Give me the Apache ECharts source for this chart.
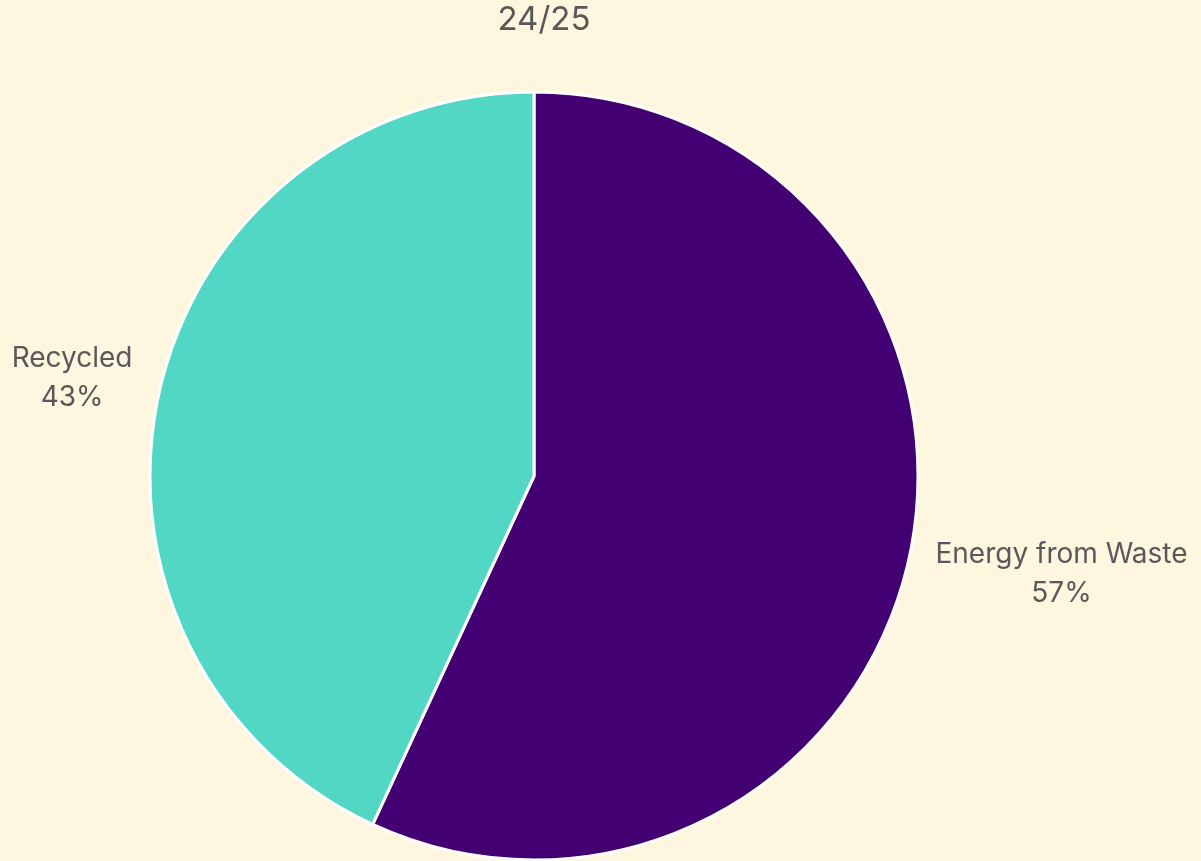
<!DOCTYPE html>
<html>
<head>
    <meta charset="utf-8">
    <title>24/25</title>
    <script src="https://cdn.jsdelivr.net/npm/echarts@6.0.0/dist/echarts.min.js"></script>
    <style>
        html, body { margin: 0; padding: 0; background: #FFF6E0; }
        #main { width: 1201px; height: 861px; }
    </style>
</head>
<body>
    <div id="main"></div>
    <script>
        var categories = ['Energy from Waste', 'Recycled'];
        var values = [56.9, 43.1];
        var colors = ['#430072', '#52D7C4'];

        var myChart = echarts.init(document.getElementById('main'));

        var option = {
            backgroundColor: '#FFF6E0',
            title: {
                text: '24/25',
                left: 539,
                top: -1,
                textAlign: 'center',
                textStyle: {
                    fontFamily: 'Inter',
                    fontSize: 33,
                    fontWeight: 'normal',
                    color: '#595959'
                }
            },
            series: [{
                type: 'pie',
                center: [534, 476],
                radius: [0, 384],
                startAngle: 90,
                clockwise: true,
                avoidLabelOverlap: false,
                data: categories.map(function (c, i) {
                    return { name: c, value: values[i], itemStyle: { color: colors[i] } };
                }),
                itemStyle: { borderColor: '#ffffff', borderWidth: 3 },
                label: {
                    show: true,
                    position: 'outside',
                    formatter: '{b}\n{d}%',
                    fontFamily: 'Inter',
                    fontSize: 28,
                    lineHeight: 39,
                    color: '#595959'
                },
                percentPrecision: 0,
                labelLine: { show: false, length: 22, length2: 0 },
                labelLayout: function (p) {
                    var cy = p.labelRect.y + p.labelRect.height / 2;
                    return {
                        x: p.labelRect.x + p.labelRect.width / 2,
                        y: cy + (cy - 476) * 0.12,
                        align: 'center',
                        verticalAlign: 'middle'
                    };
                },
                emphasis: { disabled: true }
            }]
        };

        myChart.setOption(option);
    </script>
</body>
</html>
